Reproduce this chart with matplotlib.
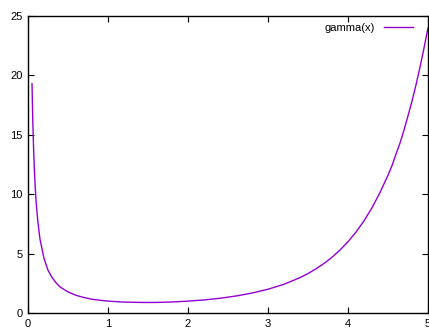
import matplotlib
matplotlib.use('Agg')
import matplotlib.pyplot as plt

# values
x_vals = [0.05, 0.06, 0.07, 0.08, 0.09, 0.1, 0.12, 0.15, 0.2, 0.25, 0.3, 0.35,
          0.4, 0.5, 0.6, 0.7, 0.8, 0.9, 1.0, 1.2, 1.4, 1.5, 1.6, 1.8, 2.0,
          2.2, 2.4, 2.6, 2.8, 3.0, 3.2, 3.4, 3.5, 3.6, 3.7, 3.8, 3.9, 4.0,
          4.1, 4.2, 4.3, 4.4, 4.5, 4.55, 4.6, 4.65, 4.7, 4.75, 4.8, 4.85,
          4.9, 4.95, 5.0]
gamma_vals = [19.3, 16.1, 13.8, 12.0, 10.6, 9.5, 7.9, 6.2, 4.6, 3.6, 3.0, 2.55,
              2.2, 1.77, 1.49, 1.30, 1.16, 1.07, 1.0, 0.92, 0.89, 0.886, 0.89,
              0.93, 1.0, 1.10, 1.24, 1.43, 1.68, 2.0, 2.42, 2.98, 3.32, 3.72,
              4.17, 4.69, 5.30, 6.0, 6.81, 7.76, 8.86, 10.14, 11.6, 12.4, 13.38,
              14.3, 15.4, 16.6, 17.84, 19.2, 20.7, 22.3, 24.0]

x_ticks = [0, 1, 2, 3, 4, 5]
y_ticks = [0, 5, 10, 15, 20, 25]

plt.rcParams['font.family'] = ['Liberation Sans', 'DejaVu Sans']

fig = plt.figure(figsize=(4.29, 3.29), dpi=100)
ax = fig.add_axes([28 / 429, 16 / 329, 400 / 429, 297 / 329])

ax.plot(x_vals, gamma_vals, color='#9400d3', linewidth=1.0, label='gamma(x)')

ax.set_xlim(0, 5)
ax.set_ylim(0, 25)
ax.set_xticks(x_ticks)
ax.set_yticks(y_ticks)
ax.tick_params(direction='in', length=4, width=0.8, top=True, right=True,
               labelsize=8, pad=4, colors='black')
for s in ax.spines.values():
    s.set_linewidth(1.0)

ax.legend(loc='upper right', bbox_to_anchor=(1 - 12.4 / 400, 1 - 4.5 / 297),
          frameon=False, markerfirst=False, fontsize=8,
          handlelength=2.6, borderaxespad=0, borderpad=0.2,
          handletextpad=0.9)

fig.savefig('out.png', dpi=100)
